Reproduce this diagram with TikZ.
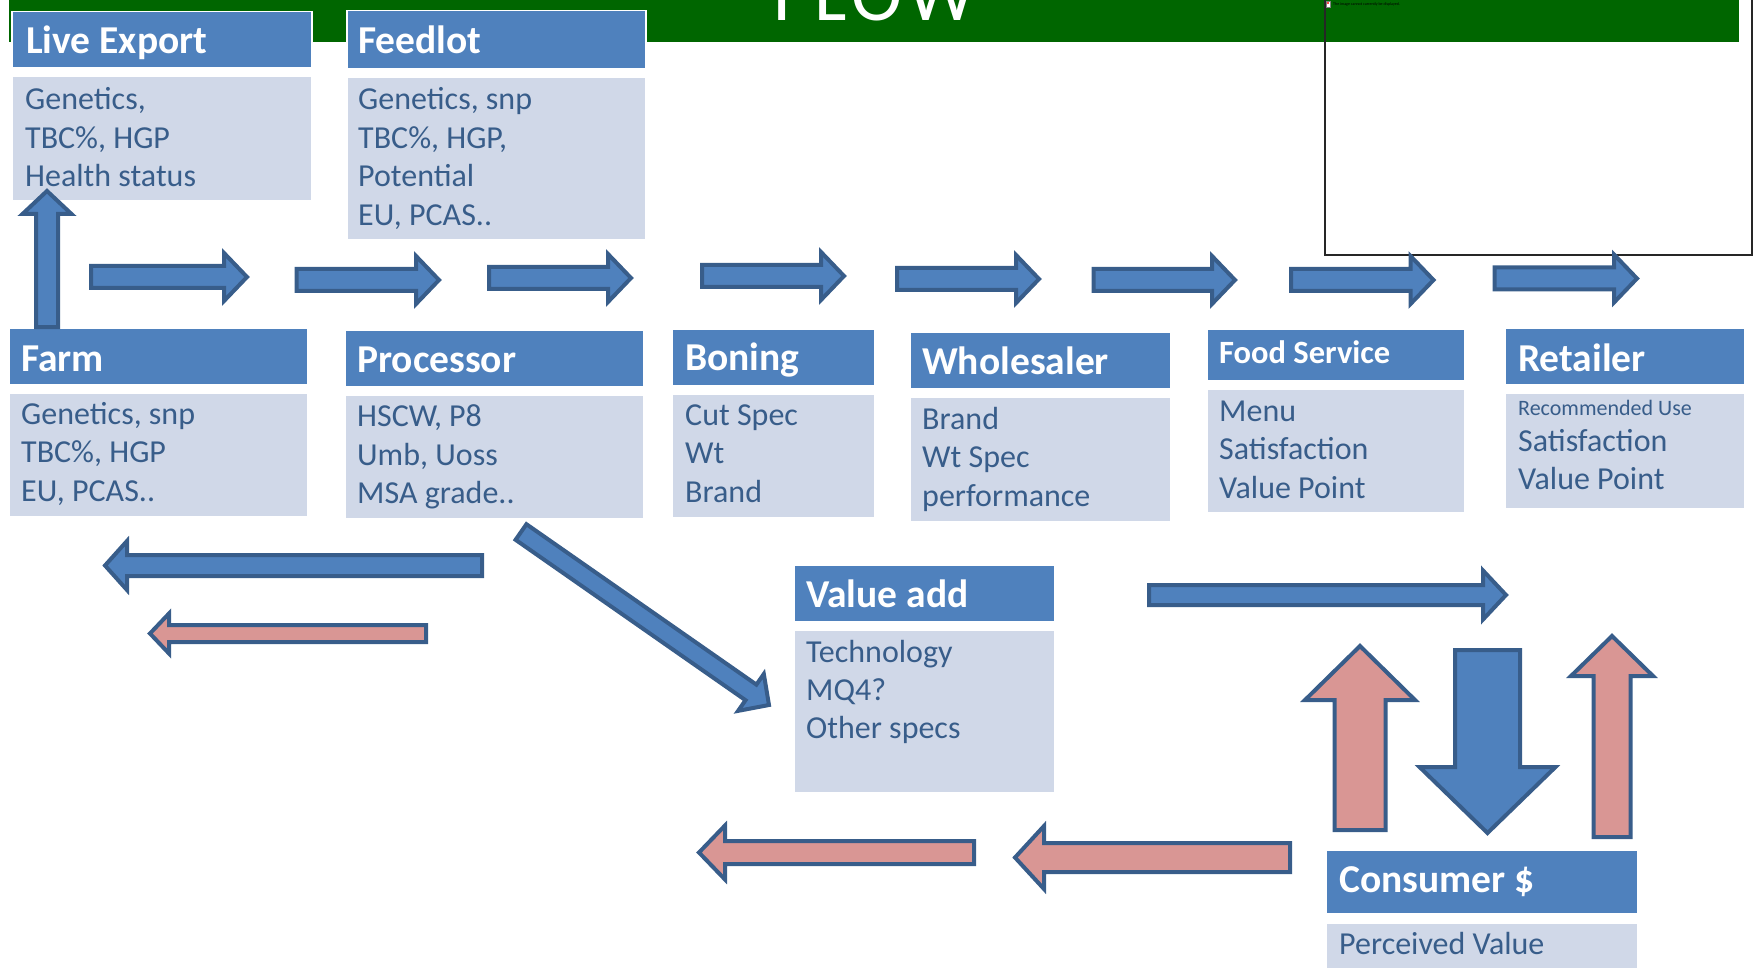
\documentclass[tikz,border=0pt]{standalone}
\usepackage{fontspec}
\setmainfont{Carlito}
\usetikzlibrary{calc}
\definecolor{hdrblue}{HTML}{4F81BD}
\definecolor{bodyblue}{HTML}{D0D8E8}
\definecolor{edgeblue}{HTML}{385D8A}
\definecolor{pinkfill}{HTML}{D99694}
\definecolor{flowgreen}{HTML}{006600}
\definecolor{txtblue}{HTML}{385D8A}
\newcommand\BlockArrow[6]{%
  \coordinate (ba) at ($(#3)!#6!(#2)$);
  \draw[#1] ($(#2)!#4!90:(#3)$) -- ($(ba)!#4!90:(#3)$) -- ($(ba)!#5!90:(#3)$) -- (#3)
     -- ($(ba)!#5!-90:(#3)$) -- ($(ba)!#4!-90:(#3)$) -- ($(#2)!#4!-90:(#3)$) -- cycle;
}
\tikzset{
  hdr/.style={fill=hdrblue, draw=white, line width=1.5pt, anchor=north west, inner sep=0pt},
  bdy/.style={fill=bodyblue, draw=white, line width=1.5pt, anchor=north west, inner sep=0pt},
  barrow/.style={fill=hdrblue, draw=edgeblue, line width=4pt, line join=miter},
  parrow/.style={fill=pinkfill, draw=edgeblue, line width=4pt, line join=miter},
  htxt/.style={anchor=base west, inner sep=0pt, text=white, font=\fontsize{39.5}{47}\selectfont\bfseries},
  btxt/.style={anchor=base west, inner sep=0pt, text=txtblue, font=\fontsize{32}{38}\selectfont},
}
\begin{document}
\begin{tikzpicture}[x=1pt,y=-1pt]
\useasboundingbox (0,0) rectangle (1756,968);
% green title bar
\fill[flowgreen] (9,0) rectangle (1739,42);
\node[anchor=base west, inner sep=0pt, text=white, font=\fontsize{77}{80}\selectfont\addfontfeature{LetterSpace=8}] (flow) at (773,21) {FLOW};
% placeholder frame top right
\draw[black!85, line width=1.2pt] (1325,-2) rectangle (1752,255);
\draw[gray, fill=white, line width=0.4pt] (1326,1) rectangle (1330.5,7);
\fill[red!70] (1327.3,2.5) rectangle (1329.2,4.5);
\node[anchor=base west, inner sep=0pt, font=\fontsize{4}{5}\selectfont] (broken) at (1333,5.5) {The image cannot currently be displayed.};

% boxes
\node[hdr, minimum width=300, minimum height=56] (leH) at (11,11) {};
\node[bdy, minimum width=300, minimum height=124] (leB) at (11,76) {};
\node[hdr, minimum width=299, minimum height=58] (flH) at (346,10) {};
\node[bdy, minimum width=299, minimum height=162] (flB) at (346,77) {};
\node[hdr, minimum width=299, minimum height=57] (faH) at (8,327) {};
\node[bdy, minimum width=299, minimum height=124] (faB) at (8,392) {};
\node[hdr, minimum width=299, minimum height=57] (prH) at (344,329) {};
\node[bdy, minimum width=299, minimum height=124] (prB) at (344,394) {};
\node[hdr, minimum width=203, minimum height=57] (boH) at (671,328) {};
\node[bdy, minimum width=203, minimum height=124] (boB) at (671,393) {};
\node[hdr, minimum width=261, minimum height=57] (whH) at (909,331) {};
\node[bdy, minimum width=261, minimum height=125] (whB) at (909,396) {};
\node[hdr, minimum width=258, minimum height=52] (fsH) at (1206,328) {};
\node[bdy, minimum width=258, minimum height=124] (fsB) at (1206,388) {};
\node[hdr, minimum width=240, minimum height=57] (reH) at (1504,327) {};
\node[bdy, minimum width=240, minimum height=116] (reB) at (1504,392) {};
\node[hdr, minimum width=261, minimum height=57] (vaH) at (793,564) {};
\node[bdy, minimum width=261, minimum height=163] (vaB) at (793,629) {};
\node[hdr, minimum width=312, minimum height=64] (coH) at (1325,849) {};
\node[bdy, minimum width=312, minimum height=50] (coB) at (1325,922) {};

% header texts
\node[htxt] (leT) at (26,54) {Live Export};
\node[htxt] (flT) at (358,54) {Feedlot};
\node[htxt] (faT) at (21,371) {Farm};
\node[htxt] (prT) at (357,372) {Processor};
\node[htxt] (boT) at (685,370) {Boning};
\node[htxt] (whT) at (922,374) {Wholesaler};
\node[htxt, font=\fontsize{32.5}{40}\selectfont\bfseries] (fsT) at (1219,363) {Food Service};
\node[htxt] (reT) at (1518,371) {Retailer};
\node[htxt] (vaT) at (806,607) {Value add};
\node[htxt] (coT) at (1339,892) {Consumer \$};

% body texts
\foreach \t [count=\i from 0] in {{Genetics,},{TBC\%, HGP},{Health status}}
  \node[btxt] (leL\i) at (25,110+38.5*\i) {\t};
\foreach \t [count=\i from 0] in {{Genetics, snp},{TBC\%, HGP,},{Potential},{EU, PCAS..}}
  \node[btxt] (flL\i) at (358,110+38.5*\i) {\t};
\foreach \t [count=\i from 0] in {{Genetics, snp},{TBC\%, HGP},{EU, PCAS..}}
  \node[btxt] (faL\i) at (21,424+38.5*\i) {\t};
\foreach \t [count=\i from 0] in {{HSCW, P8},{Umb, Uoss},{MSA grade..}}
  \node[btxt] (prL\i) at (357,426.5+38.5*\i) {\t};
\foreach \t [count=\i from 0] in {{Cut Spec},{Wt},{Brand}}
  \node[btxt] (boL\i) at (685,425+38.5*\i) {\t};
\foreach \t [count=\i from 0] in {{Brand},{Wt Spec},{performance}}
  \node[btxt] (whL\i) at (922,429+38.5*\i) {\t};
\foreach \t [count=\i from 0] in {{Menu},{Satisfaction},{Value Point}}
  \node[btxt] (fsL\i) at (1219,421+38.5*\i) {\t};
\node[btxt, font=\fontsize{22}{26}\selectfont] (reL0) at (1518,415) {Recommended Use};
\node[btxt] (reL1) at (1518,451) {Satisfaction};
\node[btxt] (reL2) at (1518,489.5) {Value Point};
\foreach \t [count=\i from 0] in {{Technology},{MQ4?},{Other specs}}
  \node[btxt] (vaL\i) at (806,662+38.3*\i) {\t};
\node[btxt] (coL0) at (1339,954) {Perceived Value};

% top row arrows
\coordinate (a1t) at (91,277);    \coordinate (a1h) at (247,277);
\coordinate (a2t) at (296.5,280); \coordinate (a2h) at (439,280);
\coordinate (a3t) at (489,278);   \coordinate (a3h) at (631,278);
\coordinate (a4t) at (702,276);   \coordinate (a4h) at (844,276);
\coordinate (a5t) at (897,279);   \coordinate (a5h) at (1039,279);
\coordinate (a6t) at (1093.5,280);\coordinate (a6h) at (1235,280);
\coordinate (a7t) at (1291,280);  \coordinate (a7h) at (1433.5,280);
\coordinate (a8t) at (1494.5,278.5); \coordinate (a8h) at (1637,278.5);
\foreach \k in {1,...,8}{\BlockArrow{barrow}{a\k t}{a\k h}{11pt}{24pt}{23pt}}

% farm -> live export
\coordinate (upT) at (47,327); \coordinate (upH) at (47,191);
\BlockArrow{barrow}{upT}{upH}{11pt}{24.5pt}{23pt}

% lower left arrows
\coordinate (blT) at (482,565.5); \coordinate (blH) at (105,565.5);
\BlockArrow{barrow}{blT}{blH}{10.5pt}{24.5pt}{22pt}
\coordinate (plT) at (426,633.5); \coordinate (plH) at (150,633.5);
\BlockArrow{parrow}{plT}{plH}{8.5pt}{20pt}{19pt}

% processor -> value add (diagonal)
\coordinate (dgT) at (521,532); \coordinate (dgH) at (769,705);
\BlockArrow{barrow}{dgT}{dgH}{9.5pt}{22.5pt}{22pt}

% value add -> right
\coordinate (vrT) at (1149,595); \coordinate (vrH) at (1506,595);
\BlockArrow{barrow}{vrT}{vrH}{10pt}{24.5pt}{23pt}

% consumer arrows
\coordinate (pu1T) at (1360,830); \coordinate (pu1H) at (1360,646);
\BlockArrow{parrow}{pu1T}{pu1H}{25.5pt}{55pt}{54pt}
\coordinate (bdT) at (1487.5,650); \coordinate (bdH) at (1487.5,833);
\BlockArrow{barrow}{bdT}{bdH}{32.5pt}{68pt}{66pt}
\coordinate (pu2T) at (1612,837); \coordinate (pu2H) at (1612,636);
\BlockArrow{parrow}{pu2T}{pu2H}{18.5pt}{41pt}{40pt}

% bottom pink arrows
\coordinate (pbAT) at (974,852.5); \coordinate (pbAH) at (699,852.5);
\BlockArrow{parrow}{pbAT}{pbAH}{11.5pt}{27pt}{26pt}
\coordinate (pbBT) at (1290,857.5); \coordinate (pbBH) at (1015,857.5);
\BlockArrow{parrow}{pbBT}{pbBH}{14.5pt}{31.5pt}{29pt}
\end{tikzpicture}
\end{document}
